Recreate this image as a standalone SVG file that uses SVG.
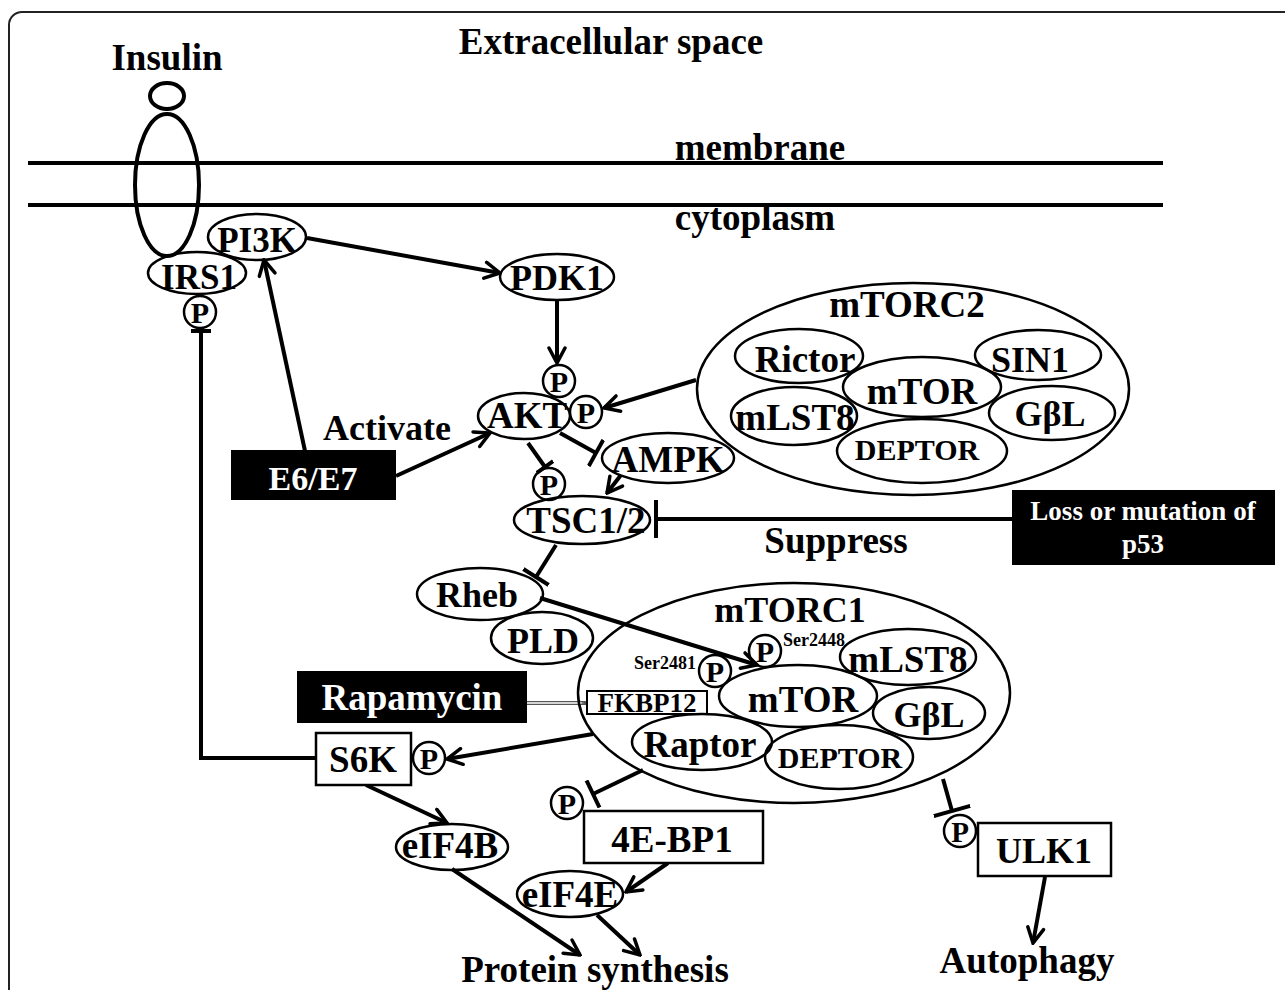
<svg xmlns="http://www.w3.org/2000/svg" width="1285" height="990" viewBox="0 0 1285 990">
<style>
.t{font-family:"Liberation Serif","Times New Roman",serif;font-weight:bold;text-anchor:middle;fill:#000}
.w{fill:#fff}
.n{fill:none;stroke:#000;stroke-width:2.5}
.c{fill:none;stroke:#000;stroke-width:4}
.a{marker-end:url(#arr)}
.i{marker-end:url(#tee)}
.p{font-size:30px}
</style>
<defs>
<marker id="arr" markerUnits="userSpaceOnUse" viewBox="0 0 20 20" refX="18" refY="10" markerWidth="20" markerHeight="20" orient="auto">
<path d="M3,2 L18,10 L3,18" fill="none" stroke="#000" stroke-width="3.5" stroke-linecap="round" stroke-linejoin="miter"/>
</marker>
<marker id="tee" markerUnits="userSpaceOnUse" viewBox="0 0 6 30" refX="3" refY="15" markerWidth="6" markerHeight="30" orient="auto">
<path d="M3,0 L3,30" stroke="#000" stroke-width="4"/>
</marker>
<marker id="teeS" markerUnits="userSpaceOnUse" viewBox="0 0 6 20" refX="3" refY="10" markerWidth="6" markerHeight="20" orient="auto">
<path d="M3,0 L3,20" stroke="#000" stroke-width="4"/>
</marker>
<marker id="teeL" markerUnits="userSpaceOnUse" viewBox="0 0 6 38" refX="3" refY="19" markerWidth="6" markerHeight="38" orient="auto">
<path d="M3,0 L3,38" stroke="#000" stroke-width="4"/>
</marker>
<marker id="arrS" markerUnits="userSpaceOnUse" viewBox="0 0 8 8" refX="7" refY="4" markerWidth="8" markerHeight="8" orient="auto">
<path d="M1,1 L7,4 L1,7" fill="none" stroke="#555" stroke-width="1"/>
</marker>
</defs>
<rect x="0" y="0" width="1285" height="990" fill="#fff"/>
<rect x="9" y="12" width="1295" height="1010" rx="13" fill="none" stroke="#222" stroke-width="2"/>

<g id="labels">
<text class="t" x="611" y="54" style="font-size:37px">Extracellular space</text>
<text class="t" x="760" y="160" style="font-size:37px">membrane</text>
<text class="t" x="755" y="230" style="font-size:37px">cytoplasm</text>
<text class="t" x="387" y="440" style="font-size:36px">Activate</text>
<text class="t" x="836" y="553" style="font-size:37px">Suppress</text>
<text class="t" x="595" y="982" style="font-size:37px">Protein synthesis</text>
<text class="t" x="1027" y="973" style="font-size:37px">Autophagy</text>
</g>

<g id="membrane">
<line x1="28" y1="163" x2="1163" y2="163" stroke="#000" stroke-width="4"/>
<line x1="28" y1="205" x2="1163" y2="205" stroke="#000" stroke-width="4"/>
</g>

<g id="insulin">
<text class="t" x="167" y="70" style="font-size:37px">Insulin</text>
<ellipse cx="167" cy="96" rx="17" ry="13" fill="none" stroke="#000" stroke-width="4"/>
<ellipse cx="167" cy="185" rx="32" ry="71" fill="none" stroke="#000" stroke-width="4"/>
</g>

<g id="connectors">
<line class="c a" x1="307" y1="238" x2="500" y2="273"/>
<line class="c a" x1="305" y1="451" x2="264" y2="260"/>
<line class="c a" x1="396" y1="476" x2="490" y2="433"/>
<line class="c a" x1="557" y1="300" x2="557" y2="363"/>
<line class="c a" x1="696" y1="380" x2="604" y2="408"/>
<line class="c i" x1="560" y1="433" x2="596" y2="453"/>
<line class="c" x1="528" y1="443" x2="545" y2="467" marker-end="url(#teeS)"/>
<line class="c a" x1="621" y1="475" x2="607" y2="493"/>
<line class="c" x1="1012" y1="519" x2="656" y2="519" marker-end="url(#teeL)"/>
<line class="c i" x1="556" y1="545" x2="536" y2="577"/>
<line class="c a" x1="540" y1="598" x2="757" y2="665"/>
<line x1="527" y1="703" x2="586" y2="703" stroke="#555" stroke-width="4"/>
<line x1="527" y1="703" x2="584" y2="703" stroke="#fff" stroke-width="1.6" marker-end="url(#arrS)"/>
<line class="c a" x1="593" y1="734" x2="447" y2="759"/>
<polyline class="c" points="316,758 201,758 201,331" marker-end="url(#teeS)"/>
<line class="c a" x1="366" y1="785" x2="447" y2="823"/>
<line class="c a" x1="452" y1="869" x2="580" y2="955"/>
<line class="c i" x1="643" y1="770" x2="593" y2="794"/>
<line class="c a" x1="668" y1="863" x2="626" y2="892"/>
<line class="c a" x1="597" y1="915" x2="640" y2="955"/>
<line class="c" x1="943" y1="779" x2="952" y2="811" marker-end="url(#teeL)"/>
<line class="c a" x1="1045" y1="877" x2="1033" y2="943"/>
</g>

<g id="PI3K"><ellipse class="n" cx="257" cy="237" rx="49" ry="23"/><text class="t" x="257" y="252" style="font-size:35px">PI3K</text></g>
<g id="IRS1"><ellipse class="n" cx="197" cy="273" rx="49" ry="21"/><text class="t" x="199" y="289" style="font-size:35px">IRS1</text></g>
<g id="IRS1-P"><circle class="n" cx="200" cy="312" r="16"/><text class="t p" x="200" y="323">P</text></g>
<g id="PDK1"><ellipse class="n" cx="557" cy="277" rx="57" ry="23"/><text class="t" x="557" y="290" style="font-size:36px">PDK1</text></g>
<g id="E6E7"><rect x="231" y="450" width="165" height="50" fill="#000"/><text class="t w" x="313" y="490" style="font-size:34px">E6/E7</text></g>
<g id="AKT"><ellipse class="n" cx="524" cy="416" rx="46" ry="23"/><text class="t" x="527" y="428" style="font-size:37px">AKT</text></g>
<g id="AKT-P1"><circle class="n" cx="559" cy="381" r="16"/><text class="t p" x="559" y="392">P</text></g>
<g id="AKT-P2"><circle class="n" cx="586" cy="412" r="16"/><text class="t p" x="586" y="423">P</text></g>
<g id="AMPK"><ellipse class="n" cx="668" cy="458" rx="66" ry="25"/><text class="t" x="668" y="472" style="font-size:37px">AMPK</text></g>
<g id="TSC-P"><circle class="n" cx="549" cy="484" r="16"/><text class="t p" x="549" y="495">P</text></g>
<g id="TSC12"><ellipse class="n" cx="582" cy="520" rx="68" ry="24"/><text class="t" x="586" y="533" style="font-size:37px">TSC1/2</text></g>
<g id="p53"><rect x="1012" y="490" width="263" height="75" fill="#000"/><text class="t w" x="1143" y="520" style="font-size:27px">Loss or mutation of</text><text class="t w" x="1143" y="553" style="font-size:27px">p53</text></g>

<g id="mTORC2">
<ellipse class="n" cx="913" cy="389" rx="216" ry="106"/>
<text class="t" x="907" y="317" style="font-size:37px">mTORC2</text>
<ellipse class="n" cx="799" cy="356" rx="64" ry="27"/><text class="t" x="805" y="372" style="font-size:37px">Rictor</text>
<ellipse class="n" cx="1038" cy="355" rx="63" ry="25"/><text class="t" x="1030" y="372" style="font-size:36px">SIN1</text>
<ellipse class="n" cx="922" cy="387" rx="79" ry="30"/><text class="t" x="922" y="404" style="font-size:37px">mTOR</text>
<ellipse class="n" cx="794" cy="416" rx="63" ry="29"/><text class="t" x="795" y="430" style="font-size:37px">mLST8</text>
<ellipse class="n" cx="1052" cy="413" rx="63" ry="27"/><text class="t" x="1050" y="426" style="font-size:36px">GβL</text>
<ellipse class="n" cx="922" cy="451" rx="85" ry="32"/><text class="t" x="917" y="460" style="font-size:30px">DEPTOR</text>
</g>

<g id="Rheb"><ellipse class="n" cx="480" cy="594" rx="63" ry="26"/><text class="t" x="477" y="607" style="font-size:36px">Rheb</text></g>
<g id="PLD"><ellipse class="n" cx="542" cy="638" rx="51" ry="26"/><text class="t" x="543" y="653" style="font-size:36px">PLD</text></g>

<g id="mTORC1">
<ellipse class="n" cx="794" cy="693" rx="216" ry="110"/>
<text class="t" x="790" y="622" style="font-size:36px">mTORC1</text>
<ellipse class="n" cx="798" cy="696" rx="79" ry="31"/><text class="t" x="803" y="712" style="font-size:37px">mTOR</text>
<ellipse class="n" cx="908" cy="657" rx="68" ry="28"/><text class="t" x="908" y="672" style="font-size:37px">mLST8</text>
<ellipse class="n" cx="929" cy="713" rx="56" ry="26"/><text class="t" x="929" y="727" style="font-size:36px">GβL</text>
<ellipse class="n" cx="702" cy="742" rx="70" ry="28"/><text class="t" x="700" y="757" style="font-size:37px">Raptor</text>
<ellipse class="n" cx="839" cy="757" rx="74" ry="32"/><text class="t" x="840" y="768" style="font-size:30px">DEPTOR</text>
<rect x="587" y="691" width="120" height="23" fill="none" stroke="#000" stroke-width="2"/><text class="t" x="647" y="712" style="font-size:27px">FKBP12</text>
<circle class="n" cx="765" cy="651" r="16"/><text class="t p" x="765" y="662">P</text>
<text class="t" x="783" y="646" style="font-size:18px;text-anchor:start">Ser2448</text>
<circle class="n" cx="715" cy="671" r="16"/><text class="t p" x="715" y="682">P</text>
<text class="t" x="696" y="669" style="font-size:18px;text-anchor:end">Ser2481</text>
</g>

<g id="Rapamycin"><rect x="297" y="671" width="230" height="52" fill="#000"/><text class="t w" x="412" y="710" style="font-size:37px">Rapamycin</text></g>
<g id="S6K"><rect x="316" y="733" width="95" height="52" fill="#fff" stroke="#000" stroke-width="2.5"/><text class="t" x="363" y="772" style="font-size:37px">S6K</text></g>
<g id="S6K-P"><circle class="n" cx="429" cy="758" r="16"/><text class="t p" x="429" y="769">P</text></g>
<g id="eIF4B"><ellipse class="n" cx="452" cy="847" rx="56" ry="23"/><text class="t" x="450" y="858" style="font-size:37px">eIF4B</text></g>
<g id="BP1-P"><circle class="n" cx="567" cy="803" r="16"/><text class="t p" x="567" y="814">P</text></g>
<g id="4EBP1"><rect x="584" y="811" width="179" height="52" fill="#fff" stroke="#000" stroke-width="2.5"/><text class="t" x="672" y="852" style="font-size:37px">4E-BP1</text></g>
<g id="eIF4E"><ellipse class="n" cx="570" cy="894" rx="53" ry="23"/><text class="t" x="570" y="907" style="font-size:37px">eIF4E</text></g>
<g id="ULK1-P"><circle class="n" cx="960" cy="831" r="16"/><text class="t" x="960" y="842" style="font-size:29px">P</text></g>
<g id="ULK1"><rect x="978" y="823" width="133" height="53" fill="#fff" stroke="#000" stroke-width="2.5"/><text class="t" x="1044" y="863" style="font-size:36px">ULK1</text></g>
</svg>
